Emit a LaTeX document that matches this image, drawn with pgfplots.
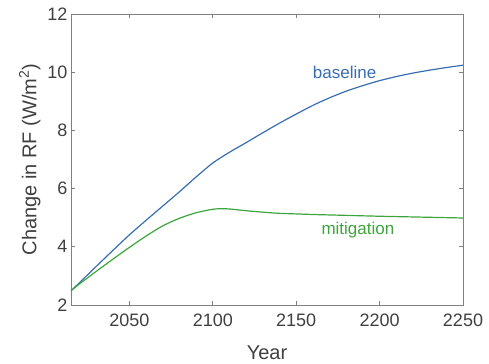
\documentclass[border=0pt]{standalone}
\usepackage{fontspec}
\setmainfont{Liberation Sans}
\usepackage{pgfplots}
\pgfplotsset{compat=1.18}
\definecolor{bl}{RGB}{55,110,180}
\definecolor{gr}{RGB}{60,165,60}
\definecolor{axc}{RGB}{128,128,128}
\definecolor{txt}{RGB}{64,64,64}
\begin{document}
\begin{tikzpicture}
\begin{axis}[
  scale only axis,
  width=392pt, height=291pt,
  xmin=2015, xmax=2250, ymin=2, ymax=12,
  xtick={2050,2100,2150,2200,2250},
  ytick={2,4,6,8,10,12},
  tick align=inside,
  major tick length=4pt,
  axis line style={axc, line width=0.8pt},
  every tick/.style={axc, line width=0.8pt},
  tick label style={font=\fontsize{18}{20}\selectfont, text=txt},
  xticklabel style={yshift=-5pt},
  /pgf/number format/assume math mode=true,
  /pgf/number format/1000 sep={},
  label style={font=\fontsize{20}{22}\selectfont, text=txt},
  xlabel={Year},
  xlabel style={yshift=-13pt},
  ylabel={Change in RF (W/m\textsuperscript{2})},
  clip=false,
]
\addplot[bl, line width=1.2pt, smooth, tension=0.4] coordinates {
(2015,2.49) (2020,2.76) (2030,3.32) (2040,3.87) (2050,4.41) (2060,4.91)
(2070,5.40) (2080,5.89) (2090,6.40) (2100,6.88) (2110,7.25) (2120,7.58)
(2130,7.92) (2140,8.25) (2150,8.56) (2160,8.86) (2170,9.12) (2180,9.35)
(2190,9.54) (2200,9.71) (2210,9.85) (2220,9.97) (2230,10.07) (2240,10.16)
(2250,10.24)
};
\addplot[gr, line width=1.2pt, smooth, tension=0.4] coordinates {
(2015,2.49) (2020,2.72) (2030,3.15) (2040,3.57) (2050,3.98) (2060,4.37)
(2070,4.72) (2080,4.98) (2090,5.17) (2100,5.29) (2105,5.31) (2110,5.30)
(2120,5.24) (2130,5.19) (2140,5.15) (2150,5.13) (2160,5.11) (2180,5.08)
(2200,5.05) (2225,5.02) (2250,4.99)
};
\node[anchor=base, text=bl, font=\fontsize{17}{19}\selectfont] at (axis cs:2179,9.77) {baseline};
\node[anchor=base, text=gr, font=\fontsize{17}{19}\selectfont] at (axis cs:2187,4.41) {mitigation};
\end{axis}
\path ([xshift=-71pt,yshift=-56pt]current axis.south west) rectangle ([xshift=26pt,yshift=14pt]current axis.north east);
\end{tikzpicture}
\end{document}
